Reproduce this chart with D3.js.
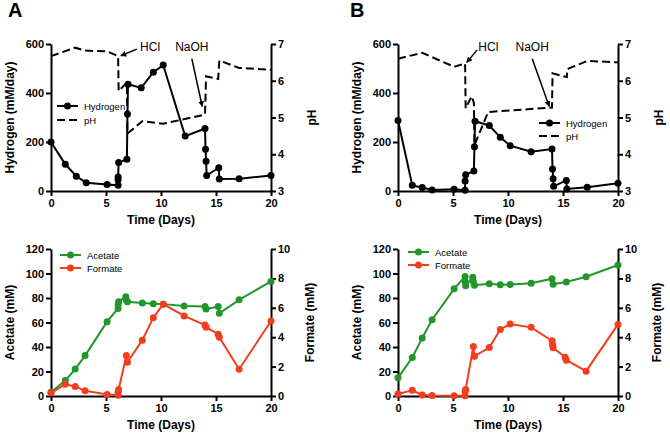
<!DOCTYPE html>
<html>
<head>
<meta charset="utf-8">
<script src="https://cdn.jsdelivr.net/npm/d3@7"></script>
<style>
	body { margin: 0; background: #fff; }
	svg text { font-family: "Liberation Sans", Arial, sans-serif; }
</style>
</head>
<body>
<div id="chart"></div>
<script>
// ---- DATA ----
// panel A, top: hydrogen production and pH
const daysH2A = [0, 1.3, 2.3, 3.2, 5.1, 6.1, 6.1, 6.1, 6.15, 6.9, 6.95, 7.0, 8.2, 9.3, 10.2, 12.2, 14.0, 14.05, 14.1, 14.15, 15.25, 15.3, 17.1, 20];
const hydrogenA = [200, 109, 60, 34, 27, 23, 46, 57, 116, 130, 314, 436, 421, 485, 514, 224, 255, 170, 121, 63, 95, 49, 50, 63];
const daysPhA = [0, 2.2, 3.1, 5.1, 6.1, 6.15, 6.9, 6.95, 8.3, 10.2, 14.0, 14.1, 15.2, 15.3, 17.1, 20];
const phA = [6.67, 6.9, 6.82, 6.8, 6.67, 5.72, 5.95, 4.56, 4.9, 4.83, 5.08, 6.12, 6.05, 6.55, 6.35, 6.3];

// panel B, top
const daysH2B = [0, 1.3, 2.2, 3.1, 5.1, 6.1, 6.1, 6.15, 6.9, 6.95, 7.0, 8.3, 9.3, 10.2, 12.1, 14.0, 14.05, 14.1, 14.15, 15.3, 15.35, 17.2, 20];
const hydrogenB = [288, 23, 14, 4, 7, 3, 41, 66, 82, 181, 285, 267, 219, 185, 160, 171, 90, 50, 19, 43, 8, 15, 32];
const daysPhB = [0, 2.2, 5.1, 6.1, 6.15, 6.7, 6.9, 6.95, 8.2, 14.0, 14.05, 15.35, 15.4, 17.2, 20];
const phB = [6.6, 6.76, 6.38, 6.47, 5.25, 5.58, 5.4, 4.25, 5.15, 5.27, 6.2, 6.1, 6.32, 6.54, 6.5];

// panel A, bottom: acetate and formate
const daysAcA = [0, 1.3, 2.2, 3.1, 5.1, 6.1, 6.1, 6.15, 6.8, 6.85, 6.95, 8.3, 9.3, 10.2, 12.1, 14.0, 14.1, 15.2, 15.3, 17.1, 20];
const acetateA = [3, 12.6, 22, 33, 60.7, 71.5, 74.2, 76.9, 81, 78.3, 77, 76, 75.3, 75, 73.5, 73, 71, 73, 67.5, 78.5, 93.5];
const daysFoA = [0, 1.3, 2.2, 3.1, 5.1, 6.1, 6.1, 6.15, 6.85, 6.95, 8.3, 9.3, 10.2, 12.1, 14.0, 14.1, 15.2, 15.3, 17.1, 20];
const formateA = [0.2, 0.8, 0.65, 0.35, 0.1, 0.05, 0.25, 0.45, 2.75, 2.3, 3.8, 5.33, 6.25, 5.45, 4.83, 4.68, 4.2, 4.0, 1.82, 5.1];

// panel B, bottom
const daysAcB = [0, 1.3, 2.2, 3.1, 5.1, 6.1, 6.1, 6.15, 6.8, 6.85, 6.95, 8.3, 9.3, 10.2, 12.1, 14.0, 14.1, 15.3, 17.1, 20];
const acetateB = [14.8, 31.4, 47.3, 62.3, 87.5, 97.6, 93.5, 90, 97, 93.5, 90.5, 91.6, 90.8, 91, 92, 95.7, 91.3, 93, 97.3, 106.9];
const daysFoB = [0, 1.3, 2.2, 3.1, 5.1, 6.1, 6.1, 6.15, 6.85, 6.95, 8.3, 9.3, 10.2, 12.1, 14.0, 14.05, 14.1, 15.2, 15.3, 17.1, 20];
const formateB = [0.14, 0.39, 0.07, 0.03, 0.02, 0.02, 0.3, 0.45, 3.37, 2.71, 3.3, 4.53, 4.9, 4.67, 3.76, 3.5, 3.28, 2.64, 2.44, 1.69, 4.87];

// ticks
const dayTicks = [0, 5, 10, 15, 20];
const h2Ticks = [0, 200, 400, 600];
const phTicks = [3, 4, 5, 6, 7];
const acTicks = [0, 20, 40, 60, 80, 100, 120];
const foTicks = [0, 2, 4, 6, 8, 10];

// annotations: [label, textDay, textPh, tailDay, tailPh, tipDay, tipPh]
const notesA = [
	["HCl", 8.1, 6.8, 7.8, 6.86, 6.35, 6.68],
	["NaOH", 12.8, 6.8, 12.8, 6.6, 13.75, 5.3]
];
const notesB = [
	["HCl", 7.3, 6.8, 7.2, 6.84, 6.25, 6.5],
	["NaOH", 12.2, 6.8, 12.2, 6.6, 13.75, 5.3]
];

const GREEN = "#22962a";
const RED = "#f23d1e";

const svg = d3.select("#chart").append("svg")
	.attr("width", 670)
	.attr("height", 436);

const defs = svg.append("defs");
defs.append("marker")
	.attr("id", "arrow")
	.attr("viewBox", "0 0 10 10")
	.attr("refX", 9).attr("refY", 5)
	.attr("markerWidth", 6).attr("markerHeight", 6)
	.attr("markerUnits", "userSpaceOnUse")
	.attr("orient", "auto")
	.append("path")
		.attr("d", "M0,0 L10,5 L0,10 z")
		.attr("fill", "#000");

function zip(xs, ys) { return xs.map((x, i) => [x, ys[i]]); }

function styleAxis(g) {
	g.selectAll(".domain").attr("stroke", "#000").attr("stroke-width", 2);
	g.selectAll(".tick line").attr("stroke", "#000").attr("stroke-width", 2);
	g.selectAll(".tick text")
		.attr("font-size", 11)
		.attr("font-weight", "bold")
		.attr("fill", "#000");
}

function vLabel(x, y, txt) {
	svg.append("text")
		.attr("transform", `translate(${x},${y}) rotate(-90)`)
		.attr("text-anchor", "middle")
		.attr("font-size", 12)
		.attr("font-weight", "bold")
		.text(txt);
}

/** draw one panel
 * p: {x0, x1, y0, y1, leftDomain, leftTicks, rightDomain, rightTicks, ...}
 */
function drawPanel(p) {
	const x = d3.scaleLinear().domain([0, 20]).range([p.x0, p.x1]);
	const yL = d3.scaleLinear().domain(p.leftDomain).range([p.y1, p.y0]);
	const yR = d3.scaleLinear().domain(p.rightDomain).range([p.y1, p.y0]);
	const fmt = d3.format("d");

	// axes
	const gx = svg.append("g")
		.attr("transform", `translate(0,${p.y1})`)
		.call(d3.axisBottom(x).tickValues(dayTicks).tickFormat(fmt).tickSize(5).tickSizeOuter(0).tickPadding(3));
	const gl = svg.append("g")
		.attr("transform", `translate(${p.x0},0)`)
		.call(d3.axisLeft(yL).tickValues(p.leftTicks).tickFormat(fmt).tickSize(5).tickSizeOuter(0).tickPadding(2));
	const gr = svg.append("g")
		.attr("transform", `translate(${p.x1},0)`)
		.call(d3.axisRight(yR).tickValues(p.rightTicks).tickFormat(fmt).tickSize(5).tickSizeOuter(0).tickPadding(2));
	[gx, gl, gr].forEach(styleAxis);

	// series
	p.series.forEach(s => {
		const y = s.axis === "left" ? yL : yR;
		const line = d3.line().x(d => x(d[0])).y(d => y(d[1]));
		const pts = zip(s.days, s.values);
		svg.append("path")
			.datum(pts)
			.attr("d", line)
			.attr("fill", "none")
			.attr("stroke", s.color)
			.attr("stroke-width", 2)
			.attr("stroke-dasharray", s.dashed ? "8,4" : null);
		if (s.dots) {
			svg.append("g")
				.selectAll("circle")
				.data(pts)
				.enter()
				.append("circle")
					.attr("cx", d => x(d[0]))
					.attr("cy", d => y(d[1]))
					.attr("r", 3.5)
					.attr("fill", s.color);
		}
	});

	// legend
	p.series.forEach((s, i) => {
		const ly = p.legend[1] + i * p.legend[2];
		const lx = p.legend[0];
		svg.append("line")
			.attr("x1", lx).attr("x2", lx + 21)
			.attr("y1", ly).attr("y2", ly)
			.attr("stroke", s.color)
			.attr("stroke-width", 2)
			.attr("stroke-dasharray", s.dashed ? "8,4" : null);
		if (s.dots) {
			svg.append("circle")
				.attr("cx", lx + 10.5).attr("cy", ly).attr("r", 3.5)
				.attr("fill", s.color);
		}
		svg.append("text")
			.attr("x", lx + 27).attr("y", ly + 3.5)
			.attr("font-size", 9.5)
			.attr("fill", "#000")
			.text(s.name);
	});

	// annotations
	(p.notes || []).forEach(n => {
		svg.append("text")
			.attr("x", x(n[1])).attr("y", yR(n[2]))
			.attr("text-anchor", n[0] === "NaOH" ? "middle" : "start")
			.attr("font-size", 12)
			.text(n[0]);
		svg.append("line")
			.attr("x1", x(n[3])).attr("y1", yR(n[4]))
			.attr("x2", x(n[5])).attr("y2", yR(n[6]))
			.attr("stroke", "#000")
			.attr("stroke-width", 1.5)
			.attr("marker-end", "url(#arrow)");
	});

	// titles
	svg.append("text")
		.attr("x", (p.x0 + p.x1) / 2).attr("y", p.y1 + 33)
		.attr("text-anchor", "middle")
		.attr("font-size", 12)
		.attr("font-weight", "bold")
		.text("Time (Days)");
	vLabel(p.x0 - 37, (p.y0 + p.y1) / 2, p.leftTitle);
	vLabel(p.x1 + p.rightOffset, (p.y0 + p.y1) / 2, p.rightTitle);
}

// panel letters
svg.append("text").attr("x", 8).attr("y", 17)
	.attr("font-size", 20).attr("font-weight", "bold").text("A");
svg.append("text").attr("x", 350).attr("y", 17)
	.attr("font-size", 20).attr("font-weight", "bold").text("B");

const topCommon = {
	y0: 44, y1: 191,
	leftDomain: [0, 600], leftTicks: h2Ticks,
	rightDomain: [3, 7], rightTicks: phTicks,
	leftTitle: "Hydrogen (mM/day)", rightTitle: "pH", rightOffset: 45
};
const bottomCommon = {
	y0: 249, y1: 396,
	leftDomain: [0, 120], leftTicks: acTicks,
	rightDomain: [0, 10], rightTicks: foTicks,
	leftTitle: "Acetate (mM)", rightTitle: "Formate (mM)", rightOffset: 43
};

drawPanel(Object.assign({}, topCommon, {
	x0: 51, x1: 271,
	series: [
		{ name: "Hydrogen", days: daysH2A, values: hydrogenA, axis: "left", color: "#000", dots: true },
		{ name: "pH", days: daysPhA, values: phA, axis: "right", color: "#000", dashed: true }
	],
	legend: [57, 106, 14],
	notes: notesA
}));
drawPanel(Object.assign({}, topCommon, {
	x0: 398, x1: 618,
	series: [
		{ name: "Hydrogen", days: daysH2B, values: hydrogenB, axis: "left", color: "#000", dots: true },
		{ name: "pH", days: daysPhB, values: phB, axis: "right", color: "#000", dashed: true }
	],
	legend: [539, 123, 13],
	notes: notesB
}));
drawPanel(Object.assign({}, bottomCommon, {
	x0: 51, x1: 271,
	series: [
		{ name: "Acetate", days: daysAcA, values: acetateA, axis: "left", color: GREEN, dots: true },
		{ name: "Formate", days: daysFoA, values: formateA, axis: "right", color: RED, dots: true }
	],
	legend: [60, 255, 13]
}));
drawPanel(Object.assign({}, bottomCommon, {
	x0: 398, x1: 618,
	series: [
		{ name: "Acetate", days: daysAcB, values: acetateB, axis: "left", color: GREEN, dots: true },
		{ name: "Formate", days: daysFoB, values: formateB, axis: "right", color: RED, dots: true }
	],
	legend: [408, 252, 13]
}));
</script>
</body>
</html>
